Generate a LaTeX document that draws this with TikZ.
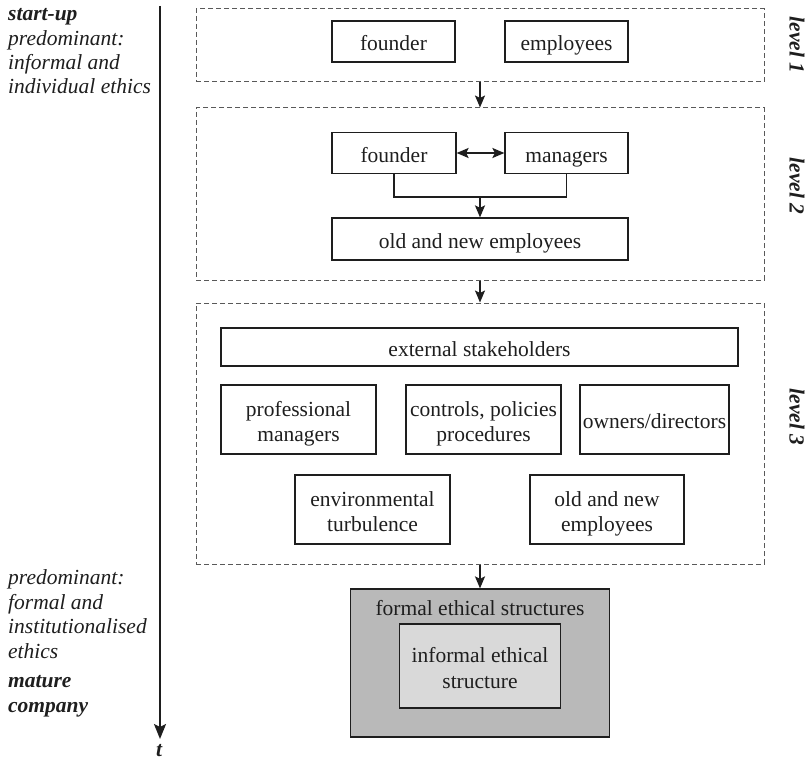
\documentclass[tikz,border=0pt]{standalone}
\usepackage{fontspec}
\setmainfont{Liberation Serif}
\usetikzlibrary{arrows.meta}
\definecolor{outerfill}{HTML}{B9B9B9}
\definecolor{innerfill}{HTML}{D9D9D9}
\definecolor{ink}{HTML}{1E1E1E}
\begin{document}
\begin{tikzpicture}[x=1pt,y=-1pt,
  every node/.style={font=\fontsize{21.5}{25.5}\selectfont, text=ink},
  box/.style={draw=ink, line width=1.2pt, inner sep=0pt, align=center},
  oneline/.style={text height=18pt, text depth=0pt},
  twoline/.style={text height=44pt, text depth=0pt},
  group/.style={draw=black!65, line width=1pt, dash pattern=on 5pt off 3pt, inner sep=0pt},
  tip/.tip={Stealth[length=12pt,width=10pt,inset=2.5pt]},
  flow/.style={draw=ink, line width=1.8pt, -tip},
  twoway/.style={draw=ink, line width=1.8pt, tip-tip},
  link/.style={draw=ink, line width=1.8pt},
  lefttext/.style={anchor=base west, inner sep=0pt, font=\fontsize{21.5}{25}\selectfont\itshape},
  leftbold/.style={anchor=base west, inner sep=0pt, font=\fontsize{21.5}{25}\selectfont\bfseries\itshape},
  levellabel/.style={rotate=-90, inner sep=0pt, font=\fontsize{21.5}{25}\selectfont\bfseries\itshape}
]
\useasboundingbox (0,0) rectangle (810,762);

% time axis
\coordinate (ttop) at (160,6);
\coordinate (tend) at (160,739);
\draw[draw=ink, line width=2pt, -{Stealth[length=15pt,width=12pt,inset=3pt]}] (ttop) -- (tend);
\node[inner sep=0pt, anchor=base, font=\fontsize{21.5}{25}\selectfont\bfseries\itshape] (t) at (159,756) {t};

% left-hand annotations
\node[leftbold] (su) at (8,21) {start-up};
\node[lefttext] (p1) at (8,46) {predominant:};
\node[lefttext] (p2) at (8,70) {informal and};
\node[lefttext] (p3) at (8,94) {individual ethics};

\node[lefttext] (q1) at (8,584) {predominant:};
\node[lefttext] (q2) at (8,609) {formal and};
\node[lefttext] (q3) at (8,633) {institutionalised};
\node[lefttext] (q4) at (8,658) {ethics};
\node[leftbold] (m1) at (8,687) {mature};
\node[leftbold] (m2) at (8,712) {company};

% level frames
\node[group, minimum width=568, minimum height=73] (L1) at (480,45.5) {};
\node[group, minimum width=568, minimum height=172] (L2) at (480,194) {};
\node[group, minimum width=568, minimum height=261] (L3) at (480,433.5) {};

\node[levellabel] (l1) at (797,45) {level 1};
\node[levellabel] (l2) at (797,186) {level 2};
\node[levellabel] (l3) at (797,417) {level 3};

% level 1
\node[box, oneline, minimum width=123, minimum height=41] (f1) at (393.5,41.5) {founder};
\node[box, oneline, minimum width=123, minimum height=41] (e1) at (566.5,41.5) {employees};

% level 2
\node[box, oneline, minimum width=124, minimum height=41] (f2) at (394,153) {founder};
\node[box, oneline, minimum width=123, minimum height=41] (m2b) at (566.5,153) {managers};
\node[box, oneline, minimum width=296, minimum height=42] (oe2) at (480,239) {old and new employees};
\coordinate (join) at (480,197);
\draw[twoway] (f2.east) -- (m2b.west);
\draw[link] (f2.south) |- (join) -| (m2b.south);
\draw[flow] (join) -- (oe2.north);

% level 3
\node[box, oneline, minimum width=517, minimum height=38] (ext) at (479.5,347) {external stakeholders};
\node[box, twoline, minimum width=155, minimum height=69] (pm) at (298.5,419.5) {professional\\managers};
\node[box, twoline, minimum width=155, minimum height=69] (cp) at (483.5,419.5) {controls, policies\\procedures};
\node[box, oneline, minimum width=149, minimum height=69] (od) at (654.5,419.5) {owners/directors};
\node[box, twoline, minimum width=155, minimum height=69] (et) at (372.5,509.5) {environmental\\turbulence};
\node[box, twoline, minimum width=154, minimum height=69] (oe3) at (607,509.5) {old and new\\employees};

% ethical structures
\node[box, fill=outerfill, minimum width=259, minimum height=148] (formal) at (480,663) {};
\node[inner sep=0pt, oneline] (formaltxt) at (480,606) {formal ethical structures};
\node[box, twoline, fill=innerfill, minimum width=161, minimum height=84] (informal) at (480,666) {informal ethical\\structure};

% transitions between levels
\draw[flow] (L1.south) -- (L2.north);
\draw[flow] (L2.south) -- (L3.north);
\draw[flow] (L3.south) -- (formal.north);
\end{tikzpicture}
\end{document}
